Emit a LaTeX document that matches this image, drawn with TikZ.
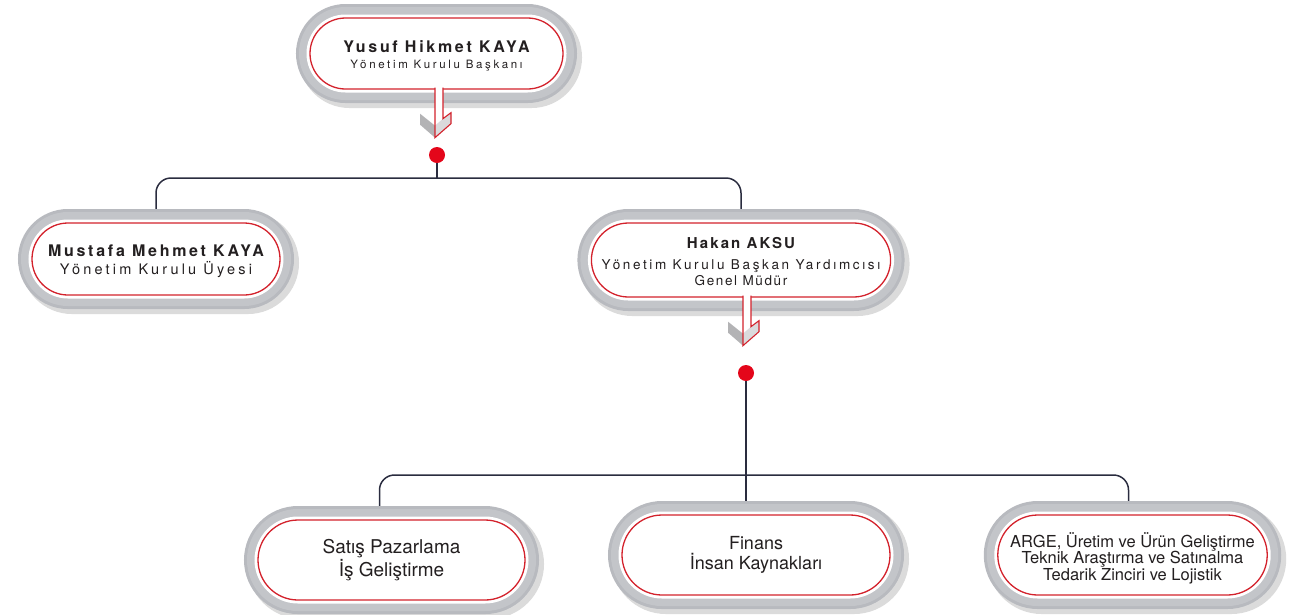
\documentclass[tikz,border=0pt]{standalone}
\usepackage{fontspec}
\setmainfont{TeX Gyre Heros}
\newfontfamily\nmfont[LetterSpace=14]{TeX Gyre Heros}
\newfontfamily\sbfont[LetterSpace=23]{TeX Gyre Heros}
\newfontfamily\sbfontB[LetterSpace=12]{TeX Gyre Heros}
\usetikzlibrary{shapes.misc,backgrounds}
\definecolor{pillred}{HTML}{D3222C}
\definecolor{ringout}{HTML}{B8BABF}
\definecolor{ringin}{HTML}{C3C5C9}
\definecolor{linenavy}{HTML}{2A2C3F}
\definecolor{dotred}{HTML}{E4061A}
\definecolor{chevgray}{HTML}{B3B3B5}
\definecolor{tabgray}{HTML}{DADADC}
\definecolor{txt}{HTML}{231F20}
\tikzset{
  pill/.style={rounded rectangle, draw=pillred, line width=1.3pt, fill=white, text=txt, align=center, inner sep=0pt,
    preaction={draw=black, draw opacity=0.14, line width=30pt, transform canvas={shift={(4pt,-4pt)}}},
    preaction={draw=ringout, line width=28pt},
    preaction={draw=ringin, line width=22pt},
    preaction={draw=white, line width=7pt}},
  conn/.style={draw=linenavy, line width=1.5pt},
  dotnode/.style={circle, fill=dotred, minimum size=16pt, inner sep=0pt},
  downtab/.pic={
    \fill[chevgray] (-15,24) -- (0,36) -- (0,48) -- (-15,35) -- cycle;
    \fill[white] (0,-2) -- (0,48) -- (16,34) -- (16,23) -- (8,29) -- (8,-2) -- cycle;
    \fill[tabgray] (0,36) -- (8,29) -- (16,23) -- (16,34) -- (0,48) -- cycle;
    \draw[pillred, line width=1.1pt] (0,-2) -- (0,48) -- (16,34) -- (16,23) -- (8,29) -- (8,-2);
  }
}
\begin{document}
\begin{tikzpicture}[x=1pt,y=-1pt]
\useasboundingbox (0,0) rectangle (1292,614);

\node[pill, minimum width=253pt, minimum height=71pt, font=\fontsize{11.5}{15.5}\sbfont] (top) at (436.5,53.5)
  {{\fontsize{16}{15.5}\nmfont\bfseries\addfontfeature{LetterSpace=17}\rule{0pt}{16.5pt}Yusuf Hikmet KAYA}\\Yönetim Kurulu Başkanı};
\node[pill, minimum width=248pt, minimum height=72pt, font=\fontsize{14.5}{18}\sbfont\addfontfeature{LetterSpace=22}] (mus) at (156,259)
  {{\fontsize{16}{18}\nmfont\bfseries\addfontfeature{LetterSpace=17}\rule{0pt}{16.5pt}Mustafa Mehmet KAYA}\\Yönetim Kurulu Üyesi};
\node[pill, minimum width=292pt, minimum height=74pt, font=\fontsize{13.5}{16}\sbfontB] (hak) at (741,260)
  {{\fontsize{15}{16}\nmfont\bfseries\rule{0pt}{14pt}Hakan AKSU}\\[5pt]{\addfontfeature{LetterSpace=19.5}Yönetim Kurulu Başkan Yardımcısı}\\Genel Müdür};
\node[pill, minimum width=267pt, minimum height=80pt, font=\fontsize{19}{20.7}\selectfont] (sat) at (391.5,560)
  {Satış Pazarlama\\İş Geliştirme};
\node[pill, minimum width=268pt, minimum height=80pt, font=\fontsize{18}{20}\selectfont] (fin) at (756,555)
  {Finans\\İnsan Kaynakları};
\node[pill, minimum width=269pt, minimum height=80pt, font=\fontsize{16.5}{16.7}\selectfont] (arg) at (1132.5,555)
  {\rule{0pt}{21pt}ARGE, Üretim ve Ürün Geliştirme\\Teknik Araştırma ve Satınalma\\Tedarik Zinciri ve Lojistik};

\pic at ([xshift=-1.5pt]top.south) {downtab};
\pic at ([xshift=2pt]hak.south) {downtab};

\node[dotnode] (d1) at (437,155) {};
\node[dotnode] (d2) at (746,373) {};
\coordinate (bus1) at (0,178);
\coordinate (bus2) at (0,475);

\begin{scope}[on background layer]
  \draw[conn] (d1.center) -- (d1 |- bus1);
  \draw[conn, rounded corners=15pt] (mus.north) |- (bus1 -| d1) -| (hak.north);
  \draw[conn] (d2.center) -- (d2 |- fin.north);
  \draw[conn, rounded corners=15pt] ([xshift=-12pt]sat.north) |- (bus2 -| d2) -| ([xshift=-4pt]arg.north);
\end{scope}
\end{tikzpicture}
\end{document}
